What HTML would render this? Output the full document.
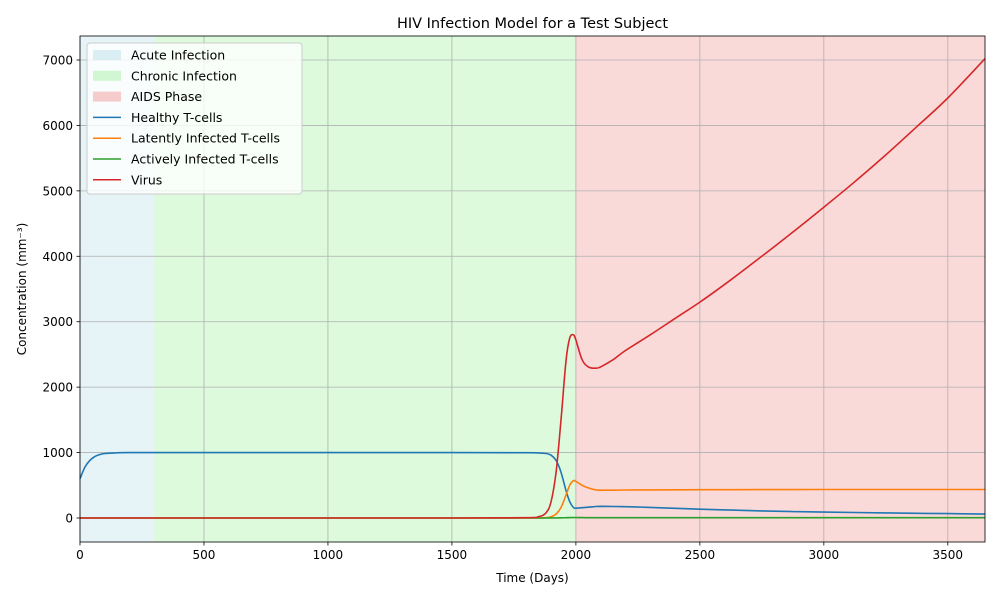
<!DOCTYPE html>
<html><head><meta charset="utf-8"><style>
body{margin:0;background:#fff;font-family:"Liberation Sans","DejaVu Sans",sans-serif}
svg text{font-family:"DejaVu Sans","Liberation Sans",sans-serif}
</style></head><body>
<svg id="c" width="1000" height="600" xmlns="http://www.w3.org/2000/svg"></svg>
<script>
const days=[0,20,40,60,80,100,150,200,300,500,1000,1500,1800,1850,1880,1900,1920,1940,1960,1975,1990,2000,2025,2050,2080,2100,2150,2200,2300,2400,2500,2625,2750,2875,3000,3125,3250,3375,3500,3650];
const healthy=[600,780,880,940,970,985,997,1000,1000,1000,1000,1000,998,995,985,960,880,700,420,250,160,150,157,165,175,178,176,172,162,148,135,120,108,98,90,84,78,72,67,60];
const latent=[0,0,0,0,0,0,0,0,0,0,0,0,0,1,5,20,60,160,350,500,570,560,500,460,430,425,425,428,430,431,432,433,434,434,435,435,435,436,436,436];
const active=[0,0,0,0,0,0,0,0,0,0,0,0,0,0,0,1,2,3,5,6,7,7,6,5,5,5,5,5,5,5,5,5,5,5,5,5,5,5,5,5];
const virus=[0,0,0,0,0,0,0,0,0,0,0,0,5,20,80,250,700,1500,2400,2750,2800,2720,2420,2310,2290,2310,2420,2560,2800,3050,3300,3640,4000,4370,4750,5140,5550,5980,6420,7020];
const xTicks=[0,500,1000,1500,2000,2500,3000,3500];
const yTicks=[0,1000,2000,3000,4000,5000,6000,7000];
const phases=[["Acute Infection",0,300,"#add8e6",0.3],["Chronic Infection",300,2000,"#90ee90",0.3],["AIDS Phase",2000,3650,"#f08080",0.3]];
const series=[["Healthy T-cells",healthy,"#1f77b4"],["Latently Infected T-cells",latent,"#ff7f0e"],["Actively Infected T-cells",active,"#2ca02c"],["Virus",virus,"#d62728"]];
const L=80,R=985,T=36,B=542,xmin=0,xmax=3650,ymin=-367,ymax=7367;
const X=v=>L+(v-xmin)/(xmax-xmin)*(R-L), Y=v=>B-(v-ymin)/(ymax-ymin)*(B-T);
const svg=document.getElementById('c');const NS="http://www.w3.org/2000/svg";
function mk(t,a,p){const e=document.createElementNS(NS,t);for(const k in a)e.setAttribute(k,a[k]);(p||svg).appendChild(e);return e;}
function smooth(pts){let d='M'+pts[0][0].toFixed(1)+','+pts[0][1].toFixed(1);
for(let i=0;i<pts.length-1;i++){const p0=pts[i-1]||pts[i],p1=pts[i],p2=pts[i+1],p3=pts[i+2]||p2;
const c1=[p1[0]+(p2[0]-p0[0])/6,p1[1]+(p2[1]-p0[1])/6],c2=[p2[0]-(p3[0]-p1[0])/6,p2[1]-(p3[1]-p1[1])/6];
d+='C'+c1[0].toFixed(1)+','+c1[1].toFixed(1)+' '+c2[0].toFixed(1)+','+c2[1].toFixed(1)+' '+p2[0].toFixed(1)+','+p2[1].toFixed(1);}
return d;}
phases.forEach(p=>{const r=mk('rect',{x:X(p[1]),y:T,width:X(p[2])-X(p[1]),height:B-T,fill:p[3],'fill-opacity':p[4]});

});
xTicks.forEach(v=>{const l=mk('line',{x1:X(v),x2:X(v),y1:T,y2:B,stroke:'#b0b0b0','stroke-width':0.8});

mk('line',{x1:X(v),x2:X(v),y1:B,y2:B+3.5,stroke:'#000','stroke-width':0.8});
const t=mk('text',{x:X(v),y:B+17,'text-anchor':'middle','font-size':12});t.textContent=v;
});
yTicks.forEach(v=>{const l=mk('line',{x1:L,x2:R,y1:Y(v),y2:Y(v),stroke:'#b0b0b0','stroke-width':0.8});

mk('line',{x1:L-3.5,x2:L,y1:Y(v),y2:Y(v),stroke:'#000','stroke-width':0.8});
const t=mk('text',{x:L-7,y:Y(v)+4.5,'text-anchor':'end','font-size':12});t.textContent=v;
});
series.forEach(s=>{const pts=days.map((x,i)=>[X(x),Y(s[1][i])]);
const p=mk('path',{d:smooth(pts),fill:'none',stroke:s[2],'stroke-width':1.6,'stroke-linejoin':'round'});
});
const f=mk('rect',{x:L,y:T,width:R-L,height:B-T,fill:'none',stroke:'#000','stroke-width':0.8});

let t=mk('text',{x:(L+R)/2,y:28,'text-anchor':'middle','font-size':14.5});t.textContent='HIV Infection Model for a Test Subject';

t=mk('text',{x:(L+R)/2,y:582,'text-anchor':'middle','font-size':12});t.textContent='Time (Days)';

t=mk('text',{x:0,y:0,'text-anchor':'middle','font-size':12,transform:'translate(26,289) rotate(-90)'});t.textContent='Concentration (mm⁻³)';

const g=mk('g',{});
mk('rect',{x:87,y:43,width:215,height:151,rx:3,fill:'#fff','fill-opacity':0.8,stroke:'#ccc'},g);
const items=phases.map(p=>[p[0],'patch',p[3]]).concat(series.map(s=>[s[0],'line',s[2]]));
items.forEach((it,i)=>{const y=55+i*20.8;
if(it[1]=='patch')mk('rect',{x:93,y:y-5,width:28,height:10,fill:it[2],'fill-opacity':0.4},g);
else mk('line',{x1:93,x2:121,y1:y,y2:y,stroke:it[2],'stroke-width':1.5},g);
const tx=mk('text',{x:131,y:y+4.5,'font-size':12.5},g);tx.textContent=it[0];
});
</script></body></html>
